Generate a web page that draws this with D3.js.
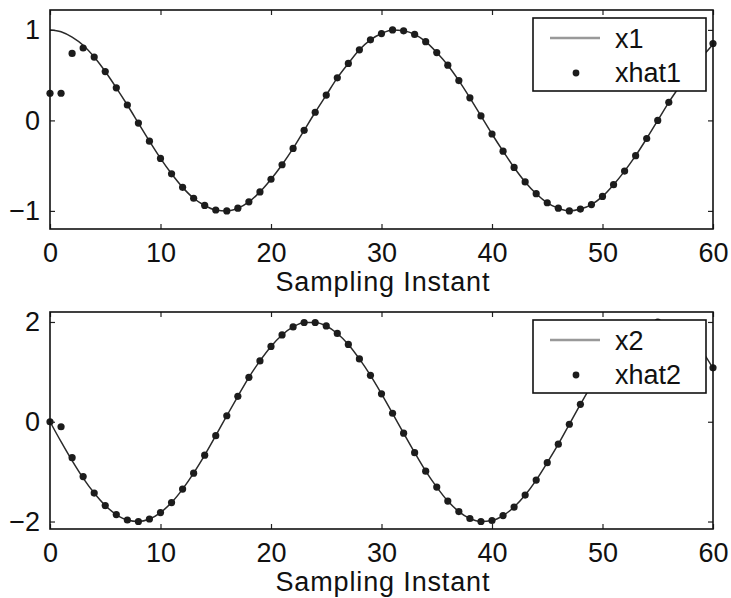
<!DOCTYPE html>
<html>
<head>
<meta charset="utf-8">
<script src="https://cdn.jsdelivr.net/npm/d3@7"></script>
<style>
  body { margin: 0; background: #fff; }
  svg text { font-family: "Liberation Sans", Arial, sans-serif; fill: #111; }
</style>
</head>
<body>
<svg id="chart" width="731" height="598"></svg>
<script>
"use strict";

// sampling instants 0..60
const instants = d3.range(0, 61);

// states
const x1 = [1.00, 0.98, 0.92, 0.83, 0.70, 0.54, 0.36, 0.17, -0.03, -0.23,
  -0.42, -0.59, -0.74, -0.86, -0.94, -0.99, -1.00, -0.97, -0.90, -0.79,
  -0.65, -0.49, -0.31, -0.11, 0.09, 0.28, 0.47, 0.63, 0.78, 0.89,
  0.96, 1.00, 0.99, 0.95, 0.87, 0.75, 0.61, 0.44, 0.25, 0.05,
  -0.15, -0.34, -0.52, -0.68, -0.81, -0.91, -0.97, -1.00, -0.98, -0.93,
  -0.84, -0.71, -0.56, -0.39, -0.20, 0.00, 0.20, 0.38, 0.55, 0.70, 0.84];

const xhat1 = [0.30, 0.30, 0.74, 0.80, 0.70, 0.54, 0.36, 0.17, -0.03, -0.23,
  -0.42, -0.59, -0.74, -0.86, -0.94, -0.99, -1.00, -0.97, -0.90, -0.79,
  -0.65, -0.49, -0.31, -0.11, 0.09, 0.28, 0.47, 0.63, 0.78, 0.89,
  0.96, 1.00, 0.99, 0.95, 0.87, 0.75, 0.61, 0.44, 0.25, 0.05,
  -0.15, -0.34, -0.52, -0.68, -0.81, -0.91, -0.97, -1.00, -0.98, -0.93,
  -0.84, -0.71, -0.56, -0.39, -0.20, 0.00, 0.20, 0.38, 0.55, 0.70, 0.85];

const x2 = [0.00, -0.40, -0.78, -1.13, -1.43, -1.68, -1.86, -1.97, -2.00, -1.95,
  -1.82, -1.62, -1.35, -1.03, -0.67, -0.28, 0.12, 0.51, 0.89, 1.22,
  1.51, 1.74, 1.90, 1.99, 1.99, 1.92, 1.77, 1.55, 1.26, 0.93,
  0.56, 0.17, -0.23, -0.62, -0.99, -1.31, -1.59, -1.80, -1.94, -2.00,
  -1.98, -1.88, -1.71, -1.47, -1.17, -0.82, -0.45, -0.05, 0.35, 0.73,
  1.09, 1.40, 1.65, 1.84, 1.96, 2.00, 1.96, 1.85, 1.67, 1.42, 1.07];

const xhat2 = [0.00, -0.10, -0.72, -1.10, -1.43, -1.68, -1.86, -1.97, -2.00, -1.95,
  -1.82, -1.62, -1.35, -1.03, -0.67, -0.28, 0.12, 0.51, 0.89, 1.22,
  1.51, 1.74, 1.90, 1.99, 1.99, 1.92, 1.77, 1.55, 1.26, 0.93,
  0.56, 0.17, -0.23, -0.62, -0.99, -1.31, -1.59, -1.80, -1.94, -2.00,
  -1.98, -1.88, -1.71, -1.47, -1.17, -0.82, -0.45, -0.05, 0.35, 0.73,
  1.09, 1.40, 1.65, 1.84, 1.96, 2.00, 1.96, 1.85, 1.67, 1.42, 1.08];

const xTicks = [0, 10, 20, 30, 40, 50, 60];
const y1Ticks = [-1, 0, 1];
const y2Ticks = [-2, 0, 2];

const svg = d3.select('#chart');
const FONT = 27;
const fmt = d3.format('d');

function panel(opts) {
  const g = svg.append('g');
  const sx = d3.scaleLinear().domain([0, 60]).range([opts.left, opts.right]);
  const sy = d3.scaleLinear().domain(opts.ydom).range([opts.bottom, opts.top]);

  // curve
  const line = d3.line()
    .x((d, i) => sx(instants[i]))
    .y(d => sy(d))
    .curve(d3.curveMonotoneX);
  g.append('path')
    .datum(opts.state)
    .attr('d', line)
    .attr('fill', 'none')
    .attr('stroke', '#2a2a2a')
    .attr('stroke-width', 1.5);

  // estimates
  g.append('g').selectAll('circle')
    .data(opts.est).enter()
    .append('circle')
      .attr('cx', (d, i) => sx(instants[i]))
      .attr('cy', d => sy(d))
      .attr('r', 3.6)
      .attr('fill', '#1c1c1c');

  // axes, ticks pointing inward on all four sides
  const ax = (sel) => {
    sel.selectAll('.domain').remove();
    sel.selectAll('line').attr('stroke', '#222').attr('stroke-width', 1.2);
    sel.selectAll('text')
      .style('font-size', FONT + 'px')
      .style('font-family', '"Liberation Sans", Arial, sans-serif')
      .attr('fill', '#111');
  };
  g.append('g')
    .attr('transform', 'translate(0,' + opts.bottom + ')')
    .call(d3.axisBottom(sx).tickValues(xTicks).tickFormat(fmt).tickSize(-5).tickPadding(14))
    .call(ax);
  g.append('g')
    .attr('transform', 'translate(0,' + opts.top + ')')
    .call(d3.axisTop(sx).tickValues(xTicks).tickSize(-5).tickFormat(''))
    .call(ax);
  g.append('g')
    .attr('transform', 'translate(' + opts.left + ',0)')
    .call(d3.axisLeft(sy).tickValues(opts.yticks).tickFormat(fmt).tickSize(-5).tickPadding(10))
    .call(ax);
  g.append('g')
    .attr('transform', 'translate(' + opts.right + ',0)')
    .call(d3.axisRight(sy).tickValues(opts.yticks).tickSize(-5).tickFormat(''))
    .call(ax);

  // frame
  g.append('rect')
    .attr('x', opts.left).attr('y', opts.top)
    .attr('width', opts.right - opts.left)
    .attr('height', opts.bottom - opts.top)
    .attr('fill', 'none')
    .attr('stroke', '#111')
    .attr('stroke-width', 1.6);

  // x label
  g.append('text')
    .attr('x', (opts.left + opts.right) / 2 + 1)
    .attr('y', opts.bottom + 62)
    .attr('text-anchor', 'middle')
    .attr('textLength', 214)
    .style('font-size', FONT + 'px')
    .text('Sampling Instant');

  // legend box
  const lg = g.append('g').attr('transform', 'translate(533,' + opts.legendTop + ')');
  lg.append('rect')
    .attr('x', 0).attr('y', 0).attr('width', 173).attr('height', 73)
    .attr('fill', '#fff')
    .attr('stroke', '#111')
    .attr('stroke-width', 1.6);
  lg.append('line')
    .attr('x1', 17).attr('x2', 67).attr('y1', 20).attr('y2', 20)
    .attr('stroke', '#999').attr('stroke-width', 2.5);
  lg.append('text')
    .attr('x', 82).attr('y', 30)
    .style('font-size', FONT + 'px')
    .text(opts.names[0]);
  lg.append('circle')
    .attr('cx', 43).attr('cy', 55).attr('r', 3.4)
    .attr('fill', '#1c1c1c');
  lg.append('text')
    .attr('x', 82).attr('y', 64)
    .style('font-size', FONT + 'px')
    .text(opts.names[1]);
}

panel({
  left: 50, right: 713, top: 10, bottom: 229,
  ydom: [-1.2, 1.22], yticks: y1Ticks,
  state: x1, est: xhat1, names: ['x1', 'xhat1'], legendTop: 18
});

panel({
  left: 50, right: 713, top: 312, bottom: 529,
  ydom: [-2.15, 2.2], yticks: y2Ticks,
  state: x2, est: xhat2, names: ['x2', 'xhat2'], legendTop: 320
});
</script>
</body>
</html>
